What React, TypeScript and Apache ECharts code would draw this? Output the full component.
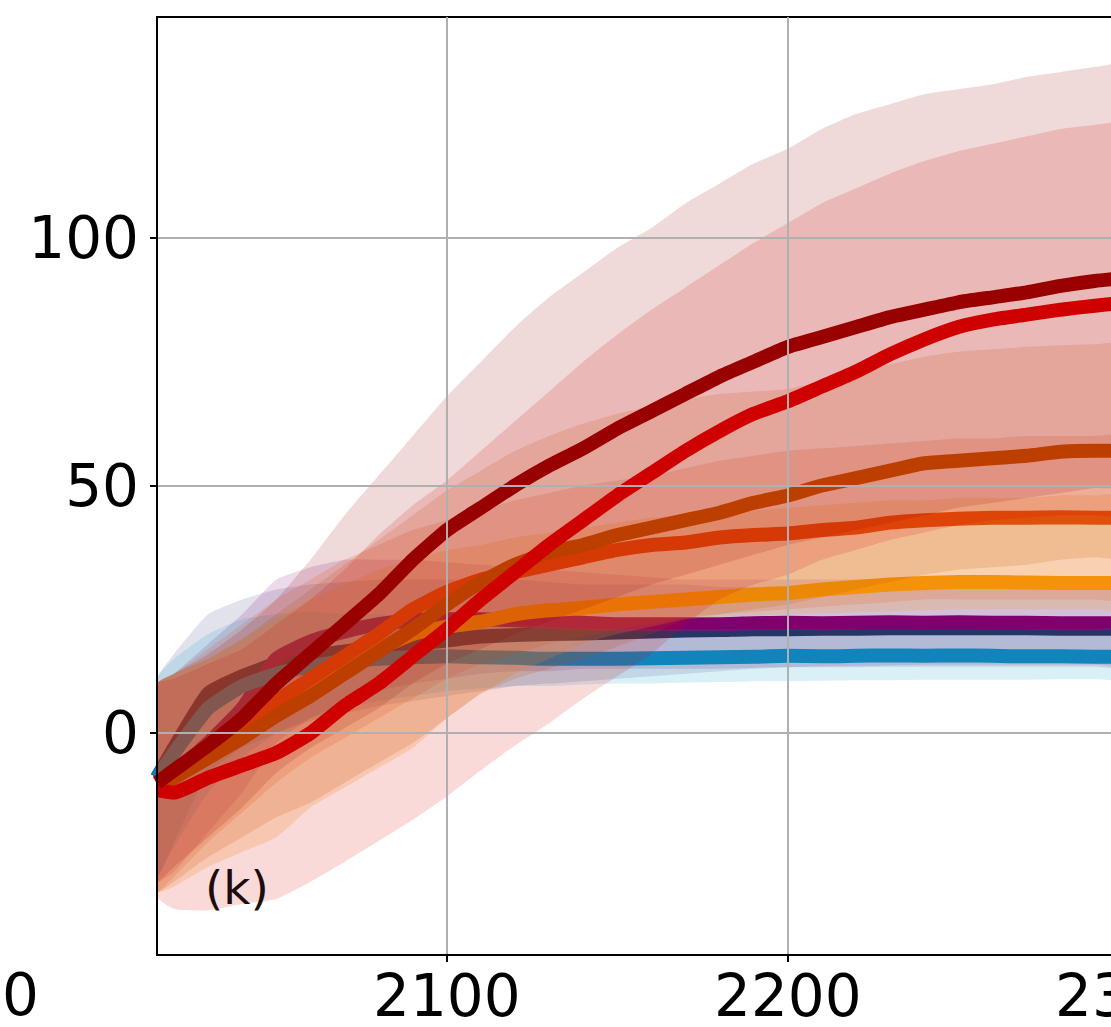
import React, { useEffect, useRef } from "react";
import * as echarts from "echarts";

const years = [2015, 2020, 2030, 2040, 2050, 2060, 2070, 2080, 2090, 2100, 2110, 2120, 2130, 2140, 2150, 2160, 2170, 2180, 2190, 2200, 2210, 2220, 2230, 2240, 2250, 2260, 2270, 2280, 2290, 2300];
const xTicks = [2100, 2200, 2300];
const yTicks = [0, 50, 100];

const blueMean = [-9, -4, 5, 9.5, 12, 13.5, 14.5, 15, 15.3, 15.5, 15.3, 15.2, 15, 15, 15, 15.1, 15.2, 15.3, 15.4, 15.6, 15.5, 15.6, 15.7, 15.6, 15.7, 15.6, 15.5, 15.5, 15.4, 15.4];
const blueUpper = [11, 15, 20, 23, 24, 24.5, 24, 24, 23.5, 23, 22.5, 22, 21.5, 21, 21, 21, 21, 21, 21, 21, 21, 21, 21, 21, 21, 21, 21, 21, 21, 21];
const blueLower = [-29, -23, -12, -5, 0, 3, 5, 6.5, 7.5, 8.5, 9, 9.5, 9.5, 9.8, 10, 10, 10.2, 10.3, 10.5, 10.5, 10.6, 10.7, 10.7, 10.8, 10.8, 10.8, 10.8, 10.9, 10.9, 11];

const navyMean = [-9, -3, 8, 11.5, 14, 15.5, 16.5, 17.5, 18, 18.7, 19.5, 19.8, 20, 20.1, 20.3, 20.5, 20.7, 20.8, 21, 21, 21.1, 21.1, 21.2, 21.2, 21.2, 21.2, 21.2, 21.1, 21.1, 21.1];
const navyUpper = [11, 16, 24, 27, 29, 30, 30.5, 31, 31, 31, 31, 31, 30.5, 30, 30, 30, 30, 29.5, 29.5, 29.5, 29.5, 29.5, 29.5, 29.5, 29.5, 29.5, 29.5, 29.5, 29.5, 29.5];
const navyLower = [-29, -22, -8, -3, 0, 2.5, 4, 5.5, 6.5, 7.5, 8.5, 9.5, 10, 10.5, 11, 11.5, 12, 12.5, 13, 13.3, 13.5, 13.6, 13.7, 13.8, 13.8, 13.8, 13.8, 13.8, 13.8, 13.8];

const purpleMean = [-10, -8, -2, 5, 15, 18.5, 20.5, 22, 22.8, 23, 23, 22.8, 22.5, 22.3, 22, 22, 22, 22, 22.2, 22.3, 22.2, 22.3, 22.4, 22.3, 22.4, 22.3, 22.3, 22.2, 22.2, 22.2];
const purpleUpper = [10, 12, 18, 24, 31, 33.5, 35, 35, 35, 34.5, 34, 33.5, 33, 32.5, 32, 31.5, 31, 31, 31, 31, 31, 31, 31, 31, 31, 31, 31, 31, 31, 31];
const purpleLower = [-30, -28, -20, -12, -2, 3, 6, 8.5, 10, 11, 12, 12.5, 12.5, 13, 13, 13, 13, 13, 13.2, 13.3, 13.3, 13.3, 13.4, 13.4, 13.4, 13.4, 13.4, 13.4, 13.4, 13.4];

const amberMean = [-10, -8.5, -4, 0.5, 5, 9.5, 13.5, 17, 20, 21.5, 22.5, 24, 24.8, 25.3, 26, 26.5, 27, 27.5, 28, 28.3, 29, 29.5, 30, 30.3, 30.5, 30.5, 30.4, 30.3, 30.3, 30.3];
const amberUpper = [10, 12, 15, 19, 23, 27, 30, 33, 35, 37, 38, 39.5, 40.5, 41.5, 42.5, 43.5, 44, 44.5, 45, 45.5, 46, 46.5, 47, 47, 47.5, 47.5, 47.5, 48, 48, 48];
const amberLower = [-32, -31, -27, -24, -21, -15, -11, -7, -3, 3, 8, 12, 15, 18, 20, 21.5, 23, 23.5, 23.8, 24, 24.2, 24.4, 24.6, 24.8, 25, 25, 25, 25, 25, 25];

const orangeRedMean = [-10, -8, -3, 2, 6.5, 11, 15.5, 20, 25, 28.5, 31, 32.5, 34, 35.5, 37, 38, 38.5, 39.5, 40, 40.3, 41, 41.5, 42.5, 43, 43.3, 43.5, 43.5, 43.6, 43.5, 43.5];
const orangeRedUpper = [10, 12, 17, 22, 27, 31, 35, 38, 41, 43, 45, 47, 48.5, 50, 51, 52, 53.5, 55, 56, 57, 57.5, 58, 58.5, 59, 59.5, 59.5, 60, 60, 60, 60];
const orangeRedLower = [-32, -29, -22, -16, -10, -5, -1, 3, 7, 11, 14, 16, 18, 19.5, 21, 22, 23.5, 24, 24.5, 25, 25.5, 26, 26.5, 27, 27, 27, 27, 27, 27, 27];

const brownMean = [-10.5, -9, -5, -1, 3.5, 7.5, 12, 16.5, 21, 26, 30.5, 34, 36.5, 38, 40, 41.5, 43, 44.5, 46.5, 48, 50, 51.5, 53, 54.5, 55, 55.5, 56, 56.8, 57, 57];
const brownUpper = [10, 12, 15, 19, 24, 29, 34, 39, 44, 49, 53, 57, 60, 62.5, 64.5, 66, 67.5, 68.5, 69, 69.5, 71, 73, 74.5, 76, 77, 77.5, 78, 78.3, 78.5, 78.5];
const brownLower = [-32, -30, -25, -21, -17, -14, -10, -6, -2, 3, 8, 11, 13, 15, 17.5, 20, 23, 24, 25, 26, 27.5, 29, 30.5, 32, 33, 33.5, 34, 35, 35.5, 35.5];

const redMean = [-11.5, -12, -9, -6.5, -4, 0, 5.5, 10, 15.5, 21, 27, 32.5, 38, 43, 48, 52.5, 57, 61, 64.5, 67, 70, 73, 76.5, 79.5, 82, 83.5, 84.5, 85.5, 86.3, 87];
const redUpper = [10, 11, 14, 17, 22, 27, 33, 40, 46, 51, 57, 63, 69, 75, 80.5, 85.5, 90, 94.5, 99, 103, 107, 110, 113, 115.5, 117.5, 119, 120.5, 122, 122.8, 123];
const redLower = [-33, -35.5, -35.8, -34.5, -33.5, -30, -26, -21.8, -17.5, -12.8, -7.5, -2.5, 2, 7, 11.5, 16, 22, 27, 30, 32, 35, 37, 39, 40.5, 42, 43, 43.5, 44, 44, 44];

const darkRedMean = [-10, -7.5, -2.5, 3, 10, 16, 22, 28, 35, 41, 45.5, 50, 54, 57.5, 61.5, 65, 68.5, 72, 75, 78, 80, 82, 84, 85.5, 87, 88, 89, 90.3, 91.3, 92];
const darkRedUpper = [10, 12, 16, 21, 27, 35, 44, 52, 60, 68, 75, 82, 88, 93, 98, 102, 107, 111, 115, 118, 122, 125, 127, 129, 130, 131, 132.5, 133.5, 134.5, 135];
const darkRedLower = [-30, -27, -21, -15, -8, -3, 1, 5, 10, 14, 17, 20, 22.5, 25, 27.5, 30, 32, 34, 36, 38, 39.5, 41, 42.5, 44, 45.5, 46.5, 47.5, 48.5, 49.5, 50];

// drawing order (bottom to top): each line is drawn, then its band over it
const scenarios = [
  { name: "navy", line: "#1e2a4a", band: "rgba(40,50,110,0.14)", mean: navyMean, lo: navyLower, hi: navyUpper },
  { name: "purple", line: "#80006e", band: "rgba(128,0,112,0.15)", mean: purpleMean, lo: purpleLower, hi: purpleUpper },
  { name: "blue", line: "#1480ba", band: "rgba(0,155,200,0.15)", mean: blueMean, lo: blueLower, hi: blueUpper },
  { name: "amber", line: "#f8a000", band: "rgba(245,160,40,0.22)", mean: amberMean, lo: amberLower, hi: amberUpper },
  { name: "orangered", line: "#e4500c", band: "rgba(228,80,12,0.16)", mean: orangeRedMean, lo: orangeRedLower, hi: orangeRedUpper },
  { name: "brown", line: "#c05800", band: "rgba(192,88,0,0.16)", mean: brownMean, lo: brownLower, hi: brownUpper },
  { name: "red", line: "#d80000", band: "rgba(221,0,0,0.15)", mean: redMean, lo: redLower, hi: redUpper },
  { name: "darkred", line: "#990000", band: "rgba(153,0,0,0.15)", mean: darkRedMean, lo: darkRedLower, hi: darkRedUpper },
];

const FONT = "DejaVu Sans";

export default function App() {
  const ref = useRef<HTMLDivElement>(null);
  useEffect(() => {
    if (!ref.current) return;
    const chart = echarts.init(ref.current, null, { renderer: "svg" });
    const series: any[] = [];
    scenarios.forEach((s, i) => {
      series.push({
        type: "line",
        name: s.name,
        data: years.map((y, k) => [y, s.mean[k]]),
        showSymbol: false,
        symbol: "none",
        smooth: 0.15,
        lineStyle: { color: s.line, width: 14, cap: "butt", join: "round" },
        z: 2 + i * 2,
        silent: true,
      });
      series.push({
        type: "custom",
        name: s.name + "-band",
        coordinateSystem: "cartesian2d",
        clip: true,
        silent: true,
        z: 3 + i * 2,
        data: years.map((y, k) => [y, s.lo[k], s.hi[k]]),
        encode: { x: 0, y: [1, 2] },
        renderItem: (params: any, api: any) => {
          if (params.dataIndex !== 0) return null;
          const pts: number[][] = [];
          for (let k = 0; k < years.length; k++) pts.push(api.coord([years[k], s.hi[k]]));
          for (let k = years.length - 1; k >= 0; k--) pts.push(api.coord([years[k], s.lo[k]]));
          return {
            type: "polygon",
            shape: { points: pts, smooth: 0.15 },
            style: { fill: s.band, stroke: "none" },
          };
        },
      });
    });

    chart.setOption({
      animation: false,
      backgroundColor: "#ffffff",
      grid: {
        left: 157,
        top: 17,
        width: 971.85,
        height: 938,
        show: true,
        borderColor: "#000000",
        borderWidth: 2,
        backgroundColor: "transparent",
        z: 50,
      },
      xAxis: {
        type: "value",
        min: 2015,
        max: 2300,
        splitNumber: 3,
        axisLine: { show: true, onZero: false, lineStyle: { color: "#000", width: 2 } },
        axisTick: { show: true, length: 7, customValues: xTicks, lineStyle: { color: "#000", width: 2 } },
        axisLabel: {
          fontFamily: FONT,
          fontSize: 58,
          color: "#000",
          margin: 12,
          customValues: xTicks,
          formatter: (v: number) => String(v),
        },
        splitLine: { show: true, lineStyle: { color: "#b0b0b0", width: 2 } },
        z: 60,
      },
      yAxis: {
        type: "value",
        min: -44.8,
        max: 144.6,
        splitNumber: 4,
        axisLine: { show: true, onZero: false, lineStyle: { color: "#000", width: 2 } },
        axisTick: { show: true, length: 7, customValues: yTicks, lineStyle: { color: "#000", width: 2 } },
        axisLabel: {
          fontFamily: FONT,
          fontSize: 58,
          color: "#000",
          margin: 18,
          customValues: yTicks,
          formatter: (v: number) => String(v),
        },
        splitLine: { show: true, lineStyle: { color: "#b0b0b0", width: 2 } },
        z: 60,
      },
      graphic: [
        {
          type: "text",
          left: 205,
          top: 864,
          z: 100,
          style: { text: "(k)", font: `47px "${FONT}"`, fill: "#1c0c0c" },
        },
        {
          type: "text",
          left: 2,
          top: 966,
          z: 100,
          style: { text: "0", font: `58px "${FONT}"`, fill: "#000" },
        },
      ],
      series,
    });
    return () => chart.dispose();
  }, []);

  return (
    <div style={{ position: "fixed", left: 0, top: 0, width: 1111, height: 1027, overflow: "hidden", background: "#fff" }}>
      <div ref={ref} style={{ width: 1300, height: 1027 }} />
    </div>
  );
}
